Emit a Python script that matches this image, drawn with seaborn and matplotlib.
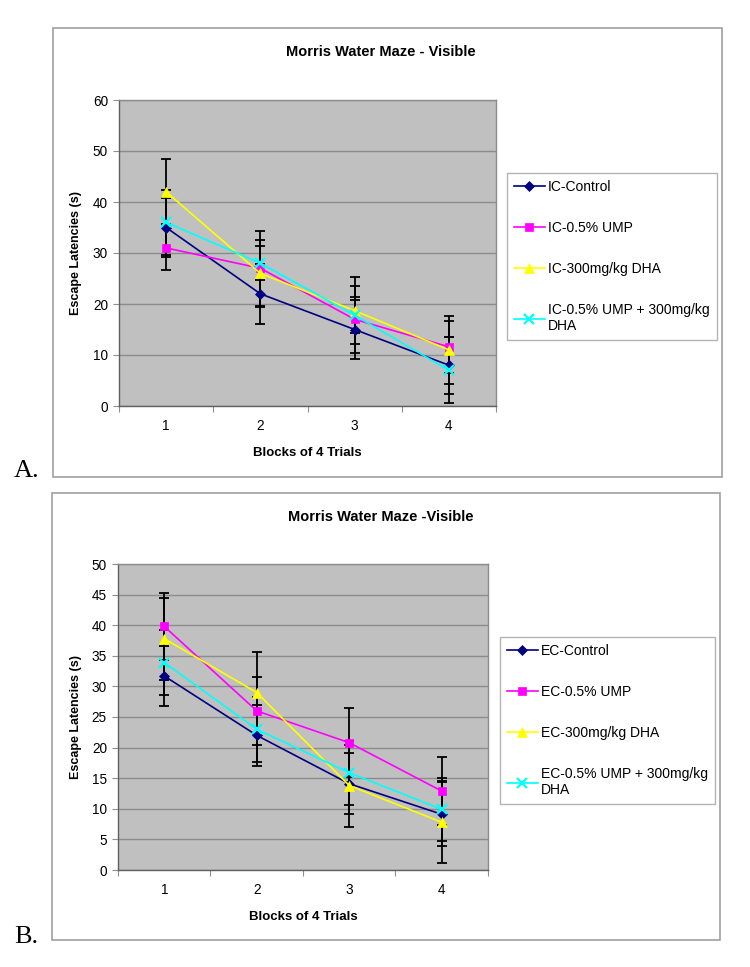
import matplotlib
matplotlib.use("Agg")
import matplotlib.pyplot as plt
from matplotlib.patches import Rectangle
import pandas as pd
import seaborn as sns

# blocks of 4 trials
blocks = [1, 2, 3, 4]

# panel A (IC groups)
labels_a = ["IC-Control", "IC-0.5% UMP", "IC-300mg/kg DHA", "IC-0.5% UMP + 300mg/kg\nDHA"]
ctrl_a = [35, 22, 15, 8]
ump_a = [31, 27, 17, 11.6]
dha_a = [42, 26, 18.7, 11]
combo_a = [36, 28, 17.8, 7]
ctrl_a_err = [5.7, 5.9, 5.8, 5.6]
ump_a_err = [4.4, 7.3, 6.6, 5.1]
dha_a_err = [6.4, 6.5, 6.6, 6.7]
combo_a_err = [6.3, 3.3, 3.5, 6.5]

# panel B (EC groups)
labels_b = ["EC-Control", "EC-0.5% UMP", "EC-300mg/kg DHA", "EC-0.5% UMP + 300mg/kg\nDHA"]
ctrl_b = [31.7, 22, 14.1, 9.1]
ump_b = [39.8, 26, 20.8, 12.9]
dha_b = [37.8, 29, 13.8, 7.8]
combo_b = [33.9, 23, 15.9, 9.9]
ctrl_b_err = [4.9, 5.0, 5.0, 5.2]
ump_b_err = [5.5, 5.5, 5.6, 5.6]
dha_b_err = [6.7, 6.7, 6.7, 6.7]
combo_b_err = [5.3, 5.3, 5.2, 5.2]

colors = ["#000080", "#FF00FF", "#FFFF00", "#00FFFF"]
markers = ["D", "s", "^", "x"]
msizes = [5, 6, 7, 7]

W, H = 750, 967

plt.rcParams["font.family"] = ["Liberation Sans", "DejaVu Sans"]
fig = plt.figure(figsize=(W / 100, H / 100), dpi=100)


def fx(px):
    return px / W


def fy(py):
    return 1 - py / H


def draw_panel(box, frame, title, title_y, labels, means, errs, ymax, ystep, legend_xy, letter, letter_y):
    # outer chart frame
    x0, y0, x1, y1 = frame
    fig.patches.append(Rectangle((fx(x0), fy(y1)), fx(x1) - fx(x0), fy(y0) - fy(y1),
                                 transform=fig.transFigure, fill=False,
                                 edgecolor="#a0a0a0", lw=1.2))
    l, t, r, b = box
    ax = fig.add_axes([fx(l), fy(b), fx(r) - fx(l), fy(t) - fy(b)])
    ax.set_facecolor("#C0C0C0")

    for i, lab in enumerate(labels):
        df = pd.DataFrame({"block": blocks, "val": means[i]})
        ax.errorbar(blocks, means[i], yerr=errs[i], fmt="none", ecolor="black",
                    elinewidth=1.3, capsize=3.8, capthick=1.3, zorder=2)
        sns.lineplot(data=df, x="block", y="val", ax=ax, color=colors[i],
                     marker=markers[i], markersize=msizes[i], markeredgecolor=colors[i],
                     markeredgewidth=1.6 if markers[i] == "x" else 0.5,
                     lw=1.2, label=lab, zorder=3, legend=False)

    ax.set_xlim(0.5, 4.5)
    ax.set_ylim(0, ymax)
    ax.set_yticks(range(0, ymax + 1, ystep))
    ax.set_xticks([0.5, 1.5, 2.5, 3.5, 4.5])
    ax.set_xticklabels([])
    ax.set_xticks(blocks, minor=True)
    ax.set_xticklabels([str(v) for v in blocks], minor=True)
    ax.tick_params(axis="x", which="minor", length=0, pad=9, labelsize=9.8)
    ax.tick_params(axis="x", which="major", length=4, color="#909090", direction="out")
    ax.tick_params(axis="y", length=4, color="#909090", direction="out", labelsize=9.8, pad=4)
    ax.yaxis.grid(True, color="#8c8c8c", lw=1)
    ax.set_axisbelow(True)
    for side in ["top", "right"]:
        ax.spines[side].set_color("#8c8c8c")
        ax.spines[side].set_linewidth(1)
    for side in ["left", "bottom"]:
        ax.spines[side].set_color("#606060")
        ax.spines[side].set_linewidth(1)
    ax.set_xlabel("")
    ax.set_ylabel("")

    fig.text(fx(381), fy(title_y), title, ha="center", va="center",
             fontsize=10.5, fontweight="bold")
    fig.text(fx((l + r) / 2), fy(b + 47), "Blocks of 4 Trials", ha="center", va="center",
             fontsize=9.5, fontweight="bold")
    fig.text(fx(76), fy((t + b) / 2), "Escape Latencies (s)", ha="center", va="center",
             rotation=90, fontsize=9, fontweight="bold")
    fig.text(fx(14), fy(letter_y), letter, ha="left", va="center",
             fontsize=19, family=["Liberation Serif", "DejaVu Serif"])

    handles, labs = ax.get_legend_handles_labels()
    leg = ax.legend(handles, labs, loc="upper left", bbox_to_anchor=(fx(legend_xy[0]), fy(legend_xy[1])),
                    bbox_transform=fig.transFigure, frameon=True, fancybox=False,
                    edgecolor="#a0a0a0", fontsize=10, labelspacing=1.95, handlelength=2.2,
                    handletextpad=0.25, borderpad=0.5, borderaxespad=0)
    leg.get_frame().set_linewidth(1)
    return ax


draw_panel((119, 100, 496, 406), (53, 28, 722, 477), "Morris Water Maze - Visible", 52,
           labels_a, [ctrl_a, ump_a, dha_a, combo_a],
           [ctrl_a_err, ump_a_err, dha_a_err, combo_a_err], 60, 10, (507, 173), "A.", 471)

draw_panel((118, 564, 488, 870), (52, 493, 720, 940), "Morris Water Maze -Visible", 517,
           labels_b, [ctrl_b, ump_b, dha_b, combo_b],
           [ctrl_b_err, ump_b_err, dha_b_err, combo_b_err], 50, 5, (500, 637), "B.", 937)

fig.savefig("out.png", dpi=100)
